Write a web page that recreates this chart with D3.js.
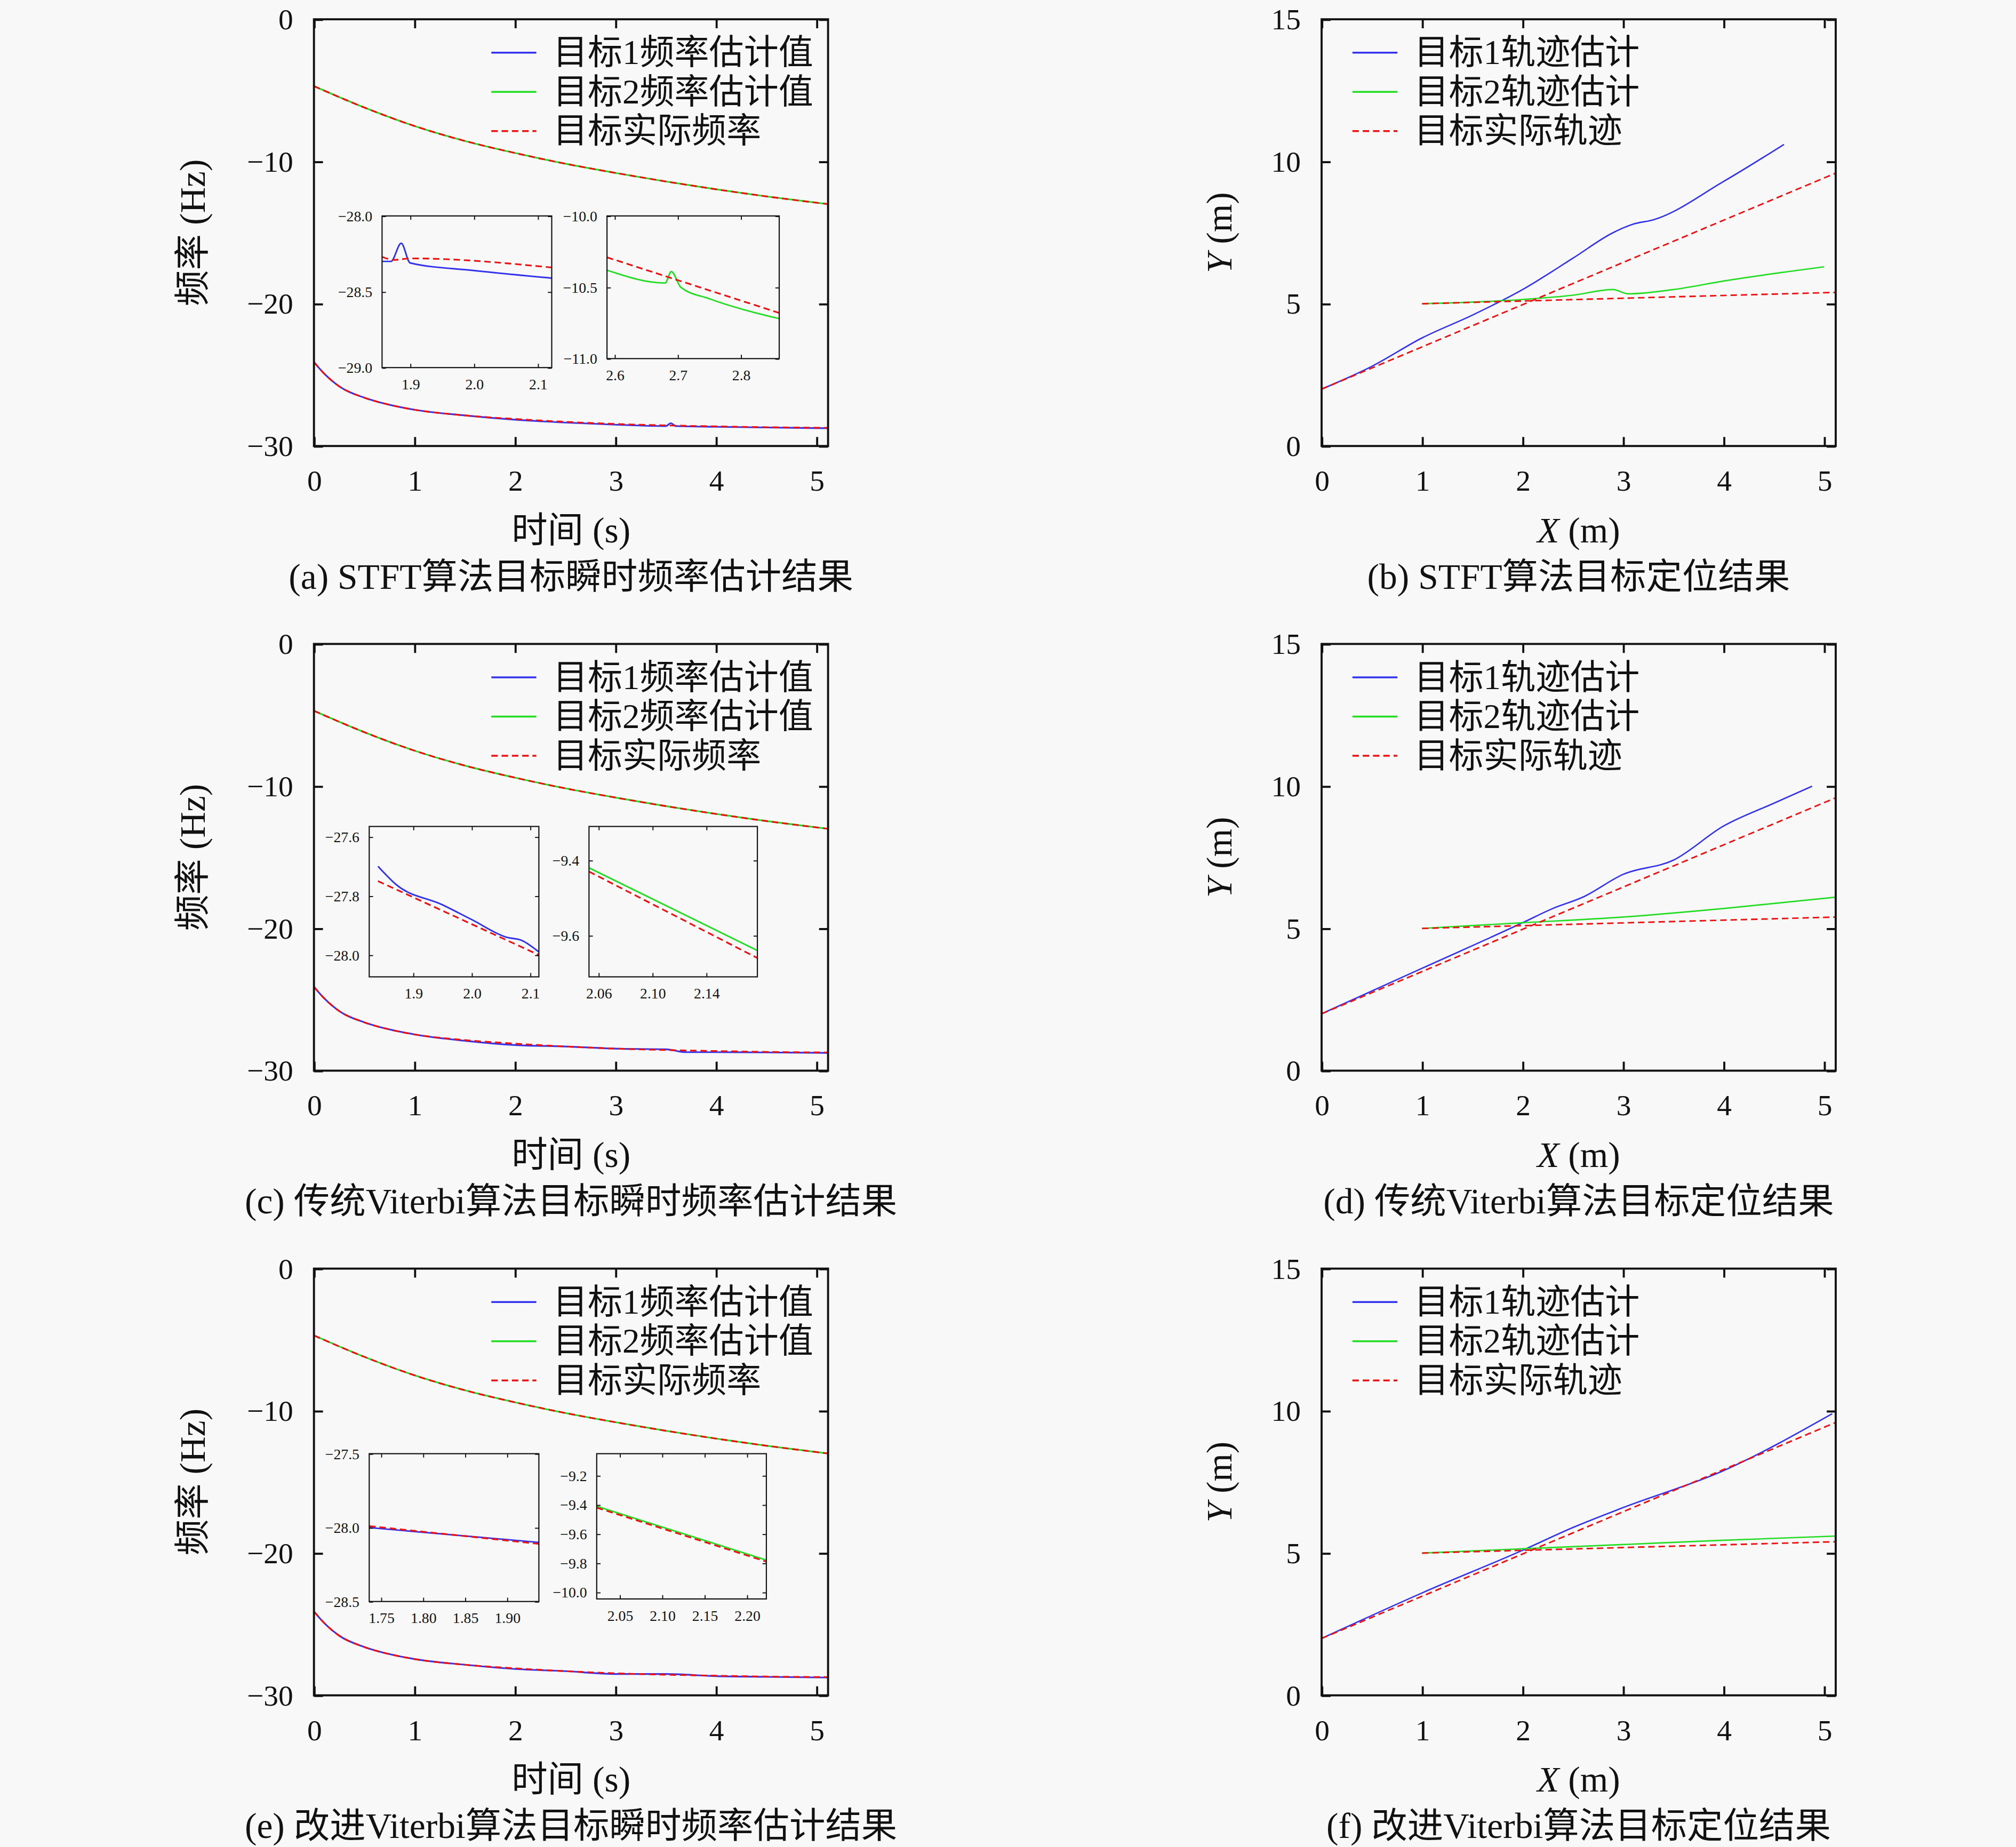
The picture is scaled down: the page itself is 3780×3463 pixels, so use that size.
<!DOCTYPE html>
<html><head><meta charset="utf-8">
<script src="https://cdn.jsdelivr.net/npm/d3@7"></script>
<style>
body{margin:0;background:#f8f8f8}
text{font-family:'Liberation Serif','DejaVu Serif','Noto Sans CJK SC',serif;fill:#111}
</style></head><body><div id="chart"></div>
<script>
// ---- data ----
var freqTicks = [0, 1, 2, 3, 4, 5];
var freqYTicks = [0, -10, -20, -30];
var trajTicks = [0, 1, 2, 3, 4, 5];
var trajYTicks = [0, 5, 10, 15];

// actual frequencies [t, Hz]
var trueF1 = [[0,-24.1],[0.1,-24.9],[0.25,-25.8],[0.5,-26.6],[0.75,-27.1],[1,-27.45],[1.5,-27.85],[2,-28.1],[2.5,-28.3],[3,-28.45],[3.5,-28.55],[4,-28.62],[4.5,-28.68],[5.12,-28.72]];
var trueF2 = [[0,-4.7],[0.5,-6.2],[1,-7.5],[1.5,-8.55],[2,-9.4],[2.5,-10.15],[3,-10.8],[3.5,-11.4],[4,-11.95],[4.5,-12.45],[5.12,-13.0]];
var estF1a = [[0,-24.1],[0.1,-24.9],[0.25,-25.8],[0.5,-26.6],[0.75,-27.1],[1,-27.45],[1.5,-27.85],[2,-28.15],[2.5,-28.35],[3,-28.5],[3.5,-28.6],[3.55,-28.4],[3.6,-28.6],[4,-28.65],[4.5,-28.7],[5.12,-28.75]];
var estF1c = [[0,-24.1],[0.1,-24.9],[0.25,-25.8],[0.5,-26.6],[0.75,-27.1],[1,-27.45],[1.5,-27.9],[2,-28.2],[2.5,-28.3],[3,-28.45],[3.5,-28.5],[3.7,-28.7],[4,-28.7],[4.5,-28.72],[5.12,-28.75]];
var estF1e = [[0,-24.1],[0.1,-24.9],[0.25,-25.8],[0.5,-26.6],[0.75,-27.1],[1,-27.45],[1.5,-27.85],[2,-28.15],[2.5,-28.3],[3,-28.5],[3.5,-28.5],[4,-28.65],[4.5,-28.7],[5.12,-28.75]];
var estF2 = [[0,-4.7],[0.5,-6.2],[1,-7.5],[1.5,-8.55],[2,-9.4],[2.5,-10.15],[3,-10.8],[3.5,-11.4],[4,-11.95],[4.5,-12.45],[5.12,-13.0]];

// inset data
var insA1Est = [[1.856,-28.3],[1.87,-28.3],[1.886,-28.18],[1.9,-28.31],[2.0,-28.36],[2.122,-28.41]];
var insA1True = [[1.856,-28.27],[1.875,-28.29],[1.9,-28.28],[2.122,-28.34]];
var insA2Est = [[2.588,-10.38],[2.68,-10.47],[2.69,-10.39],[2.705,-10.5],[2.75,-10.58],[2.861,-10.72]];
var insA2True = [[2.588,-10.29],[2.861,-10.68]];
var insC1Est = [[1.84,-27.7],[1.87,-27.76],[1.95,-27.83],[2.0,-27.88],[2.06,-27.94],[2.085,-27.95],[2.115,-27.99]];
var insC1True = [[1.84,-27.75],[2.115,-28.0]];
var insC2Est = [[2.053,-9.42],[2.178,-9.64]];
var insC2True = [[2.053,-9.43],[2.178,-9.66]];
var insE1Est = [[1.736,-28.0],[1.938,-28.1]];
var insE1True = [[1.736,-27.99],[1.938,-28.11]];
var insE2Est = [[2.023,-9.41],[2.223,-9.78]];
var insE2True = [[2.023,-9.42],[2.223,-9.79]];

// trajectories [x, y]
var trueT1 = [[0,2],[5.12,9.6]];
var trueT2 = [[1,5],[5.12,5.4]];
var estT1b = [[0,2],[0.5,2.8],[1,3.8],[1.5,4.6],[2,5.5],[2.5,6.6],[2.9,7.5],[3.1,7.8],[3.3,7.95],[4,9.3],[4.6,10.6]];
var estT2b = [[1,5],[2,5.15],[2.5,5.3],[2.9,5.5],[3.05,5.35],[3.5,5.5],[4,5.8],[5,6.3]];
var estT1d = [[0,2],[1,3.6],[2,5.2],[2.3,5.7],[2.6,6.1],[3,6.9],[3.5,7.4],[4,8.6],[4.5,9.4],[4.88,10]];
var estT2d = [[1,5],[2,5.2],[3,5.4],[4,5.7],[5.12,6.1]];
var estT1f = [[0,2],[1,3.6],[2,5.1],[2.5,5.9],[3,6.6],[4,7.9],[5.08,9.9]];
var estT2f = [[1,5],[2,5.15],[3,5.3],[4,5.45],[5.12,5.6]];

var freqLegend = ['目标1频率估计值', '目标2频率估计值', '目标实际频率'];
var trajLegend = ['目标1轨迹估计', '目标2轨迹估计', '目标实际轨迹'];
var captions = ['(a) STFT算法目标瞬时频率估计结果', '(b) STFT算法目标定位结果',
  '(c) 传统Viterbi算法目标瞬时频率估计结果', '(d) 传统Viterbi算法目标定位结果',
  '(e) 改进Viterbi算法目标瞬时频率估计结果', '(f) 改进Viterbi算法目标定位结果'];

var BLUE = '#3333ee', GREEN = '#22dd22', RED = '#ee1111';

var svg = d3.select('#chart').append('svg')
  .attr('width', 3780).attr('height', 3463)
  .attr('viewBox', '0 0 1568 1437');
svg.append('rect').attr('width', 1568).attr('height', 1437).attr('fill', '#f8f8f8');

function drawLine(g, x, y, data, color, dashed, w) {
  g.append('path').datum(data)
    .attr('d', d3.line().x(d => x(d[0])).y(d => y(d[1])).curve(d3.curveMonotoneX))
    .attr('fill', 'none').attr('stroke', color).attr('stroke-width', w || 1.3)
    .attr('stroke-dasharray', dashed ? '5,3' : null);
}

function frame(g, x, y, xt, yt, fmtX, fmtY, fs, tl) {
  var w = x.range()[1], h = y.range()[0];
  g.append('g').attr('transform', `translate(0,${h})`)
    .call(d3.axisBottom(x).tickValues(xt).tickSize(-tl).tickPadding(tl + fs * 0.5).tickFormat(fmtX));
  g.append('g').call(d3.axisTop(x).tickValues(xt).tickSize(-tl).tickFormat(''));
  g.append('g').call(d3.axisLeft(y).tickValues(yt).tickSize(-tl).tickPadding(tl + fs * 0.4).tickFormat(fmtY));
  g.append('g').attr('transform', `translate(${w},0)`)
    .call(d3.axisRight(y).tickValues(yt).tickSize(-tl).tickFormat(''));
  g.selectAll('.domain').remove();
  g.append('rect').attr('width', w).attr('height', h).attr('fill', 'none')
    .attr('stroke', '#111').attr('stroke-width', fs > 15 ? 1.6 : 0.9);
  g.selectAll('.tick line').attr('stroke', '#111').attr('stroke-width', fs > 15 ? 1.6 : 0.8);
  g.selectAll('.tick text').attr('font-size', fs).attr('fill', '#111')
    .attr('font-family', "'Liberation Serif',serif");
}

var minus = v => (v < 0 ? '\u2212' : '') + Math.abs(v);
var insFmt = d => (d < 0 ? '\u2212' : '') + Math.abs(d).toFixed(1);

function inset(g, box, xd, yd, xt, yt, dx, est, tru, color) {
  var ig = g.append('g').attr('transform', `translate(${box[0]},${box[1]})`);
  var x = d3.scaleLinear().domain(xd).range([0, box[2]]);
  var y = d3.scaleLinear().domain(yd).range([box[3], 0]);
  ig.append('rect').attr('width', box[2]).attr('height', box[3]).attr('fill', '#f8f8f8');
  var c = ig.append('g');
  drawLine(c, x, y, est, color, false, 1.2);
  drawLine(c, x, y, tru, RED, true, 1.3);
  frame(ig, x, y, xt, yt, d => d.toFixed(dx), insFmt, 11.5, 3);
}

var PW = 400, PH = 332;
var rows = [15, 501, 987];
var fx = d3.scaleLinear().domain([0, 5.115]).range([0, PW]);
var fy = d3.scaleLinear().domain([-30, 0]).range([PH, 0]);
var tx = d3.scaleLinear().domain([0, 5.115]).range([0, PW]);
var ty = d3.scaleLinear().domain([0, 15]).range([PH, 0]);

var est1 = [estF1a, estF1c, estF1e];
var estTraj = [[estT1b, estT2b], [estT1d, estT2d], [estT1f, estT2f]];
var insets = [
  [[[297,168,132,118],[1.856,2.122],[-29,-28],[1.9,2.0,2.1],[-29,-28.5,-28],1,insA1Est,insA1True,BLUE],
   [[472,168,134,111],[2.588,2.861],[-11,-10],[2.6,2.7,2.8],[-11,-10.5,-10],1,insA2Est,insA2True,GREEN]],
  [[[287,643,132,117],[1.825,2.115],[-28.074,-27.565],[1.9,2.0,2.1],[-28,-27.8,-27.6],1,insC1Est,insC1True,BLUE],
   [[458,643,131,117],[2.053,2.178],[-9.71,-9.31],[2.06,2.10,2.14],[-9.6,-9.4],2,insC2Est,insC2True,GREEN]],
  [[[287,1131,132,115],[1.736,1.938],[-28.5,-27.5],[1.75,1.80,1.85,1.90],[-28.5,-28,-27.5],2,insE1Est,insE1True,BLUE],
   [[464,1131,132,113],[2.023,2.223],[-10.046,-9.05],[2.05,2.10,2.15,2.20],[-10,-9.8,-9.6,-9.4,-9.2],2,insE2Est,insE2True,GREEN]]
];

function legend(g, x0, labels, cols, dashes) {
  labels.forEach((t, i) => {
    var yy = 26 + i * 30.5;
    g.append('line').attr('x1', x0).attr('x2', x0 + 35).attr('y1', yy).attr('y2', yy)
      .attr('stroke', cols[i]).attr('stroke-width', 1.5).attr('stroke-dasharray', dashes[i] ? '5,3' : null);
    g.append('text').attr('x', x0 + 48).attr('y', yy + 9).attr('font-size', 27).text(t);
  });
}

rows.forEach((top, r) => {
  // frequency panel
  var g = svg.append('g').attr('transform', `translate(244,${top})`);
  var cl = 'clipf' + r;
  g.append('clipPath').attr('id', cl).append('rect').attr('width', PW).attr('height', PH);
  var c = g.append('g').attr('clip-path', `url(#${cl})`);
  drawLine(c, fx, fy, estF2, GREEN);
  drawLine(c, fx, fy, trueF2, RED, true);
  drawLine(c, fx, fy, est1[r], BLUE);
  drawLine(c, fx, fy, trueF1, RED, true);
  frame(g, fx, fy, freqTicks, freqYTicks, d => d, minus, 23, 7);
  legend(g, 138, freqLegend, [BLUE, GREEN, RED], [0, 0, 1]);
  g.append('text').attr('x', PW / 2).attr('y', 407).attr('text-anchor', 'middle').attr('font-size', 28).text('时间 (s)');
  g.append('text').attr('transform', `translate(-85,${PH / 2}) rotate(-90)`).attr('text-anchor', 'middle')
    .attr('font-size', 28).text('频率 (Hz)');
  g.append('text').attr('x', 200).attr('y', 443).attr('text-anchor', 'middle').attr('font-size', 28).text(captions[r * 2]);
  insets[r].forEach(a => inset(svg, ...a));

  // trajectory panel
  var h = svg.append('g').attr('transform', `translate(1028,${top})`);
  var cl2 = 'clipt' + r;
  h.append('clipPath').attr('id', cl2).append('rect').attr('width', PW).attr('height', PH);
  var c2 = h.append('g').attr('clip-path', `url(#${cl2})`);
  drawLine(c2, tx, ty, estTraj[r][0], BLUE, false, 1.1);
  drawLine(c2, tx, ty, estTraj[r][1], GREEN, false, 1.1);
  drawLine(c2, tx, ty, trueT1, RED, true, 1.2);
  drawLine(c2, tx, ty, trueT2, RED, true, 1.2);
  frame(h, tx, ty, trajTicks, trajYTicks, d => d, d => d, 23, 7);
  legend(h, 24, trajLegend, [BLUE, GREEN, RED], [0, 0, 1]);
  var xl = h.append('text').attr('x', PW / 2).attr('y', 407).attr('text-anchor', 'middle').attr('font-size', 28);
  xl.append('tspan').attr('font-style', 'italic').text('X');
  xl.append('tspan').text(' (m)');
  var yl = h.append('text').attr('transform', `translate(-70,${PH / 2}) rotate(-90)`).attr('text-anchor', 'middle').attr('font-size', 28);
  yl.append('tspan').attr('font-style', 'italic').text('Y');
  yl.append('tspan').text(' (m)');
  h.append('text').attr('x', 200).attr('y', 443).attr('text-anchor', 'middle').attr('font-size', 28).text(captions[r * 2 + 1]);
});
</script></body></html>
